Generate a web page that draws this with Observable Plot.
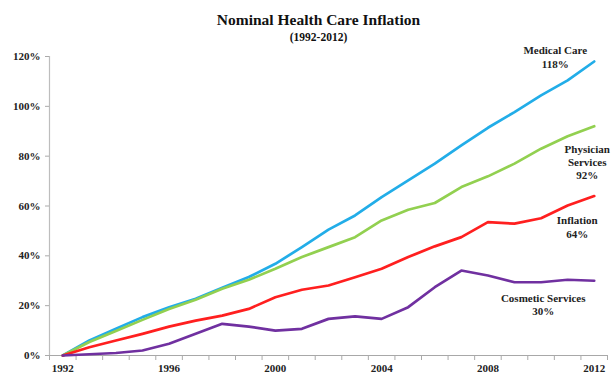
<!DOCTYPE html>
<html><head><meta charset="utf-8">
<script src="https://cdn.jsdelivr.net/npm/d3@7"></script>
<script src="https://cdn.jsdelivr.net/npm/@observablehq/plot@0.6"></script>
<style>body{margin:0;background:#fff}</style>
</head><body><div id="chart"></div>
<script>
const years = [1992,1993,1994,1995,1996,1997,1998,1999,2000,2001,2002,2003,2004,2005,2006,2007,2008,2009,2010,2011,2012];
const seriesNames = ["Medical Care", "Physician\nServices", "Inflation", "Cosmetic Services"];
const medicalCare = [0,6,10.7,15.4,19.4,22.8,27.2,31.5,36.8,43.5,50.5,56.2,63.6,70.3,77,84.3,91.4,97.7,104.4,110.4,118];
const physicianServices = [0,5.4,9.8,14.3,18.7,22.4,26.8,30.4,34.8,39.5,43.5,47.5,54.2,58.5,61.2,67.6,71.9,77,83,88,92];
const inflation = [0,3.3,6,8.7,11.6,14,16,18.7,23.4,26.4,28.1,31.4,34.8,39.5,43.8,47.5,53.5,52.9,55.1,60.2,64];
const cosmeticServices = [0,0.5,1,2,4.7,8.7,12.7,11.6,10,10.7,14.7,15.7,14.7,19.4,27.4,34.1,32.1,29.4,29.4,30.4,30];
const seriesColors = ["#22ade8", "#92d050", "#ff1f1f", "#7030a0"];
const yTicks = [0,20,40,60,80,100,120];
const xTickLabels = [1992,1996,2000,2004,2008,2012];
const title = "Nominal Health Care Inflation";
const subtitle = "(1992-2012)";

const allValues = [medicalCare, physicianServices, inflation, cosmeticServices];
const table = seriesNames.flatMap((name, i) => allValues[i].map((v, j) => ({series: name, year: years[j], value: v})));
const ends = seriesNames.map((name, i) => ({
  series: name, year: years[years.length - 1], value: allValues[i][allValues[i].length - 1],
  label: name + "\n" + Math.round(allValues[i][allValues[i].length - 1]) + "%"
}));
const boundaries = years.map(y => y - 0.5).concat([years[years.length - 1] + 0.5]);
const xMin = boundaries[0], xMax = boundaries[boundaries.length - 1];
const labelOffsets = [[-39, -16.5], [-7, 17], [-17, 19], [-51, 11.5]];
const font = "'Liberation Serif', 'Times New Roman', serif";

const chart = Plot.plot({
  width: 616, height: 378,
  marginLeft: 49, marginRight: 9, marginTop: 56, marginBottom: 23,
  style: {fontFamily: font, background: "#fff", color: "#222"},
  x: {type: "linear", domain: [xMin, xMax]},
  y: {domain: [0, 120]},
  color: {domain: seriesNames, range: seriesColors},
  marks: [
    Plot.ruleX([xMin], {stroke: "#bdbdbd", strokeWidth: 1.2}),
    Plot.ruleY([0], {stroke: "#a8a8a8", strokeWidth: 1.2}),
    Plot.axisY({ticks: yTicks, tickSize: 4, stroke: "#aaa", tickFormat: () => "", label: null}),
    Plot.axisY({ticks: yTicks, tickSize: 0, tickPadding: 9, tickFormat: d => d + "%", fontWeight: "bold", fontSize: 11, fill: "#222", label: null}),
    Plot.axisX({ticks: boundaries, tickSize: 5, stroke: "#aaa", tickFormat: () => "", label: null}),
    Plot.axisX({ticks: xTickLabels, tickSize: 0, tickPadding: 9, tickFormat: d => String(d), fontWeight: "bold", fontSize: 11, fill: "#222", label: null}),
    Plot.line(table, {x: "year", y: "value", stroke: "series", strokeWidth: 2.7}),
    ...ends.map((d, i) => Plot.text([d], {x: "year", y: "value", text: "label", dx: labelOffsets[i][0], dy: labelOffsets[i][1], lineAnchor: "top", lineHeight: 1.2, fontSize: 11, fontWeight: "bold", fill: "#222"})),
    Plot.text([title], {frameAnchor: "top", dx: -10, dy: -36.5, lineAnchor: "middle", fontSize: 15.5, fontWeight: "bold", fill: "#111"}),
    Plot.text([subtitle], {frameAnchor: "top", dx: -10, dy: -19, lineAnchor: "middle", fontSize: 11.5, fontWeight: "bold", fill: "#111"})
  ]
});
document.getElementById("chart").append(chart);
</script>
</body></html>
